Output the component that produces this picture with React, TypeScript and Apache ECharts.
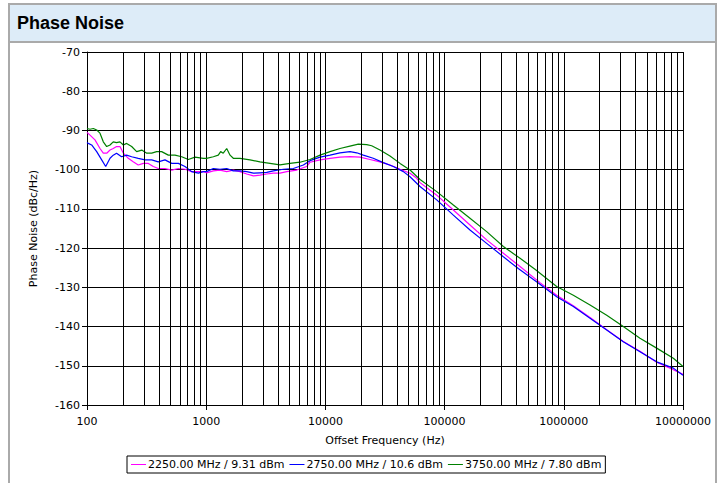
import React, { useEffect, useRef } from "react";
import * as echarts from "echarts";

// Offset frequency (Hz) and phase noise (dBc/Hz) per trace
const freq2250 = [100, 106, 116.7, 128.5, 137, 146.3, 156, 166, 177, 189, 202, 222, 244, 269, 297, 327, 360, 396, 451, 514, 584, 664, 755, 859, 946, 1007, 1148, 1305, 1486, 1688, 1923, 2188, 2485, 2826, 3219, 3656, 4159, 4740, 5743, 6966, 7430, 9016, 10940, 13250, 16070, 19500, 23660, 28700, 34830, 42300, 51300, 58400, 62200, 85900, 118400, 163300, 225400, 311100, 429300, 631000, 871000, 1202000, 1660000, 2291000, 3155000, 4355000, 6012000, 8299000, 10000000];
const pn2250 = [-90.5, -91.2, -92.4, -94.6, -95.8, -95.8, -95.0, -94.6, -94.1, -94.1, -95.8, -97.1, -98.0, -98.8, -98.4, -98.4, -99.2, -99.7, -99.7, -100.1, -99.7, -99.9, -100.5, -100.5, -100.5, -100.8, -100.3, -100.1, -100.5, -100.1, -100.5, -101.1, -101.6, -101.4, -101.1, -100.9, -100.9, -100.5, -100.1, -99.2, -98.1, -97.5, -97.1, -96.8, -96.7, -96.8, -97.4, -98.0, -98.8, -99.9, -100.9, -102.2, -103.3, -106.5, -110.3, -114.1, -117.9, -121.3, -124.7, -128.8, -132.0, -134.7, -137.7, -140.8, -143.8, -146.3, -149.1, -151.0, -152.2];

const freq2750 = [100, 102.5, 109.4, 120.6, 132.8, 143.5, 156, 166, 177, 195, 215, 237, 269, 307, 349, 396, 451, 514, 584, 664, 755, 859, 946, 1007, 1148, 1305, 1486, 1688, 1923, 2188, 2485, 2826, 3219, 3656, 4437, 5383, 6530, 7430, 9016, 10940, 13250, 16070, 18320, 20790, 25190, 30600, 37150, 45100, 51300, 62200, 85900, 118400, 163300, 225400, 311100, 415000, 631000, 871000, 1202000, 1660000, 2291000, 3155000, 4355000, 6012000, 8299000, 10000000];
const pn2750 = [-93.1, -93.3, -93.7, -95.4, -97.5, -99.2, -97.1, -96.3, -95.8, -96.7, -96.3, -96.7, -97.1, -97.5, -97.5, -98.0, -97.5, -98.4, -98.4, -99.2, -100.5, -100.9, -100.5, -100.5, -99.7, -99.9, -99.7, -100.3, -100.3, -100.5, -100.9, -100.8, -100.7, -100.3, -99.9, -99.7, -98.8, -97.7, -96.8, -96.3, -95.7, -95.4, -95.7, -96.3, -97.1, -98.2, -99.2, -100.5, -101.8, -104.3, -107.7, -111.6, -115.4, -118.8, -122.2, -125.2, -129.2, -132.4, -134.9, -137.9, -140.9, -143.9, -146.4, -149.0, -150.6, -152.4];

const freq3750 = [100, 106, 113, 120.6, 128.5, 137, 146.3, 156, 166, 177, 189, 202, 215, 237, 261, 288, 317, 349, 384, 423, 481, 547, 623, 708, 805, 946, 1007, 1148, 1263, 1322, 1390, 1486, 1585, 1688, 1923, 2329, 2826, 3428, 4159, 5047, 6124, 7430, 9016, 10940, 13250, 16070, 18880, 22220, 24450, 28700, 34830, 42300, 51300, 62200, 85900, 118400, 163300, 225400, 311100, 429300, 573000, 871000, 1202000, 1660000, 2291000, 3155000, 4355000, 6012000, 8299000, 10000000];
const pn3750 = [-89.5, -89.7, -89.5, -89.9, -90.7, -92.9, -94.1, -93.7, -92.9, -93.1, -92.9, -93.7, -93.3, -94.1, -95.4, -95.0, -95.8, -95.8, -95.4, -95.4, -96.3, -96.3, -96.7, -97.4, -96.8, -97.1, -97.1, -96.7, -96.3, -95.4, -95.8, -94.6, -96.3, -97.1, -97.1, -97.5, -98.0, -98.4, -98.8, -98.4, -98.1, -97.4, -96.3, -95.4, -94.6, -94.0, -93.5, -93.6, -93.9, -95.0, -96.5, -98.4, -100.1, -102.5, -105.6, -109.0, -112.4, -115.8, -119.6, -122.6, -125.4, -129.8, -132.0, -134.5, -137.1, -140.0, -143.0, -145.5, -148.1, -150.2];

const seriesNames = ["2250.00 MHz / 9.31 dBm", "2750.00 MHz / 10.6 dBm", "3750.00 MHz / 7.80 dBm"];
const seriesColors = ["#ff00ff", "#0000ff", "#008000"];
const decades = [100, 1000, 10000, 100000, 1000000];
const minorSteps = [2, 3, 4, 5, 6, 7, 8, 9];

const FONT = "'DejaVu Sans', Verdana, sans-serif";

function zip(xs: number[], ys: number[]) {
  return xs.map((x, i) => [x, ys[i]]);
}

export default function App() {
  const ref = useRef<HTMLDivElement>(null);
  useEffect(() => {
    if (!ref.current) return;
    const chart = echarts.init(ref.current, undefined, { renderer: "svg" });
    const minorLines: any[] = [];
    decades.forEach((d) => minorSteps.forEach((k) => minorLines.push({ xAxis: d * k })));
    const allData = [zip(freq2250, pn2250), zip(freq2750, pn2750), zip(freq3750, pn3750)];
    chart.setOption({
      animation: false,
      title: {
        text: "Phase Noise",
        left: 12,
        top: 9,
        textStyle: { fontFamily: "'Liberation Sans', Arial, sans-serif", fontWeight: "bold", fontSize: 18, color: "#000" },
      },
      grid: { left: 87, right: 39, top: 52, bottom: 78 },
      legend: {
        data: seriesNames.map((n) => ({ name: n, icon: "rect" })),
        left: 127,
        top: 456,
        orient: "horizontal",
        borderColor: "#000",
        borderWidth: 1,
        borderRadius: 0,
        padding: [3, 4, 3, 4],
        itemGap: 5,
        itemWidth: 15,
        itemHeight: 1,
        textStyle: { fontFamily: FONT, fontSize: 11, color: "#000", padding: [0, 0, 0, -3] },
      },
      xAxis: {
        type: "log",
        logBase: 10,
        min: 100,
        max: 10000000,
        name: "Offset Frequency (Hz)",
        nameLocation: "middle",
        nameGap: 30,
        nameTextStyle: { fontFamily: FONT, fontSize: 11, color: "#000" },
        axisLine: { show: true, onZero: false, lineStyle: { color: "#000", width: 1 } },
        axisTick: { show: true, length: 5, lineStyle: { color: "#000" } },
        axisLabel: {
          fontFamily: FONT,
          fontSize: 11,
          color: "#000",
          margin: 11,
          formatter: (v: number) => String(Math.round(v)),
        },
        splitLine: { show: true, lineStyle: { color: "#000", width: 1 } },
      },
      yAxis: {
        type: "value",
        min: -160,
        max: -70,
        interval: 10,
        name: "Phase Noise (dBc/Hz)",
        nameLocation: "middle",
        nameGap: 48,
        nameTextStyle: { fontFamily: FONT, fontSize: 11, color: "#000" },
        axisLine: { show: true, lineStyle: { color: "#000", width: 1 } },
        axisTick: { show: true, length: 5, lineStyle: { color: "#000" } },
        axisLabel: { fontFamily: FONT, fontSize: 11, color: "#000", margin: 7 },
        splitLine: { show: true, lineStyle: { color: "#000", width: 1 } },
      },
      series: [
        {
          type: "line",
          name: "__grid",
          data: [],
          z: 1,
          silent: true,
          markLine: {
            silent: true,
            symbol: ["none", "none"],
            label: { show: false },
            lineStyle: { color: "#000", width: 1, type: "solid" },
            emphasis: { disabled: true },
            data: minorLines,
          },
        },
        ...seriesNames.map((name, i) => ({
          type: "line",
          name,
          data: allData[i],
          z: 3,
          symbol: "none",
          showSymbol: false,
          lineStyle: { color: seriesColors[i], width: 1.2 },
          itemStyle: { color: seriesColors[i] },
        })),
      ],
    });
    return () => chart.dispose();
  }, []);

  return (
    <div style={{ position: "fixed", left: 0, top: 0, width: 722, height: 483, overflow: "hidden", background: "#fff" }}>
      <div
        style={{
          position: "absolute",
          left: 8,
          top: 3,
          width: 709,
          height: 520,
          boxSizing: "border-box",
          border: "2px solid #aaaaaa",
          background: "#fff",
        }}
      />
      <div
        style={{
          position: "absolute",
          left: 8,
          top: 3,
          width: 709,
          height: 40,
          boxSizing: "border-box",
          border: "2px solid #aaaaaa",
          background: "#ddecf8",
        }}
      />
      <div ref={ref} style={{ position: "absolute", left: 0, top: 0, width: 722, height: 483 }} />
    </div>
  );
}
